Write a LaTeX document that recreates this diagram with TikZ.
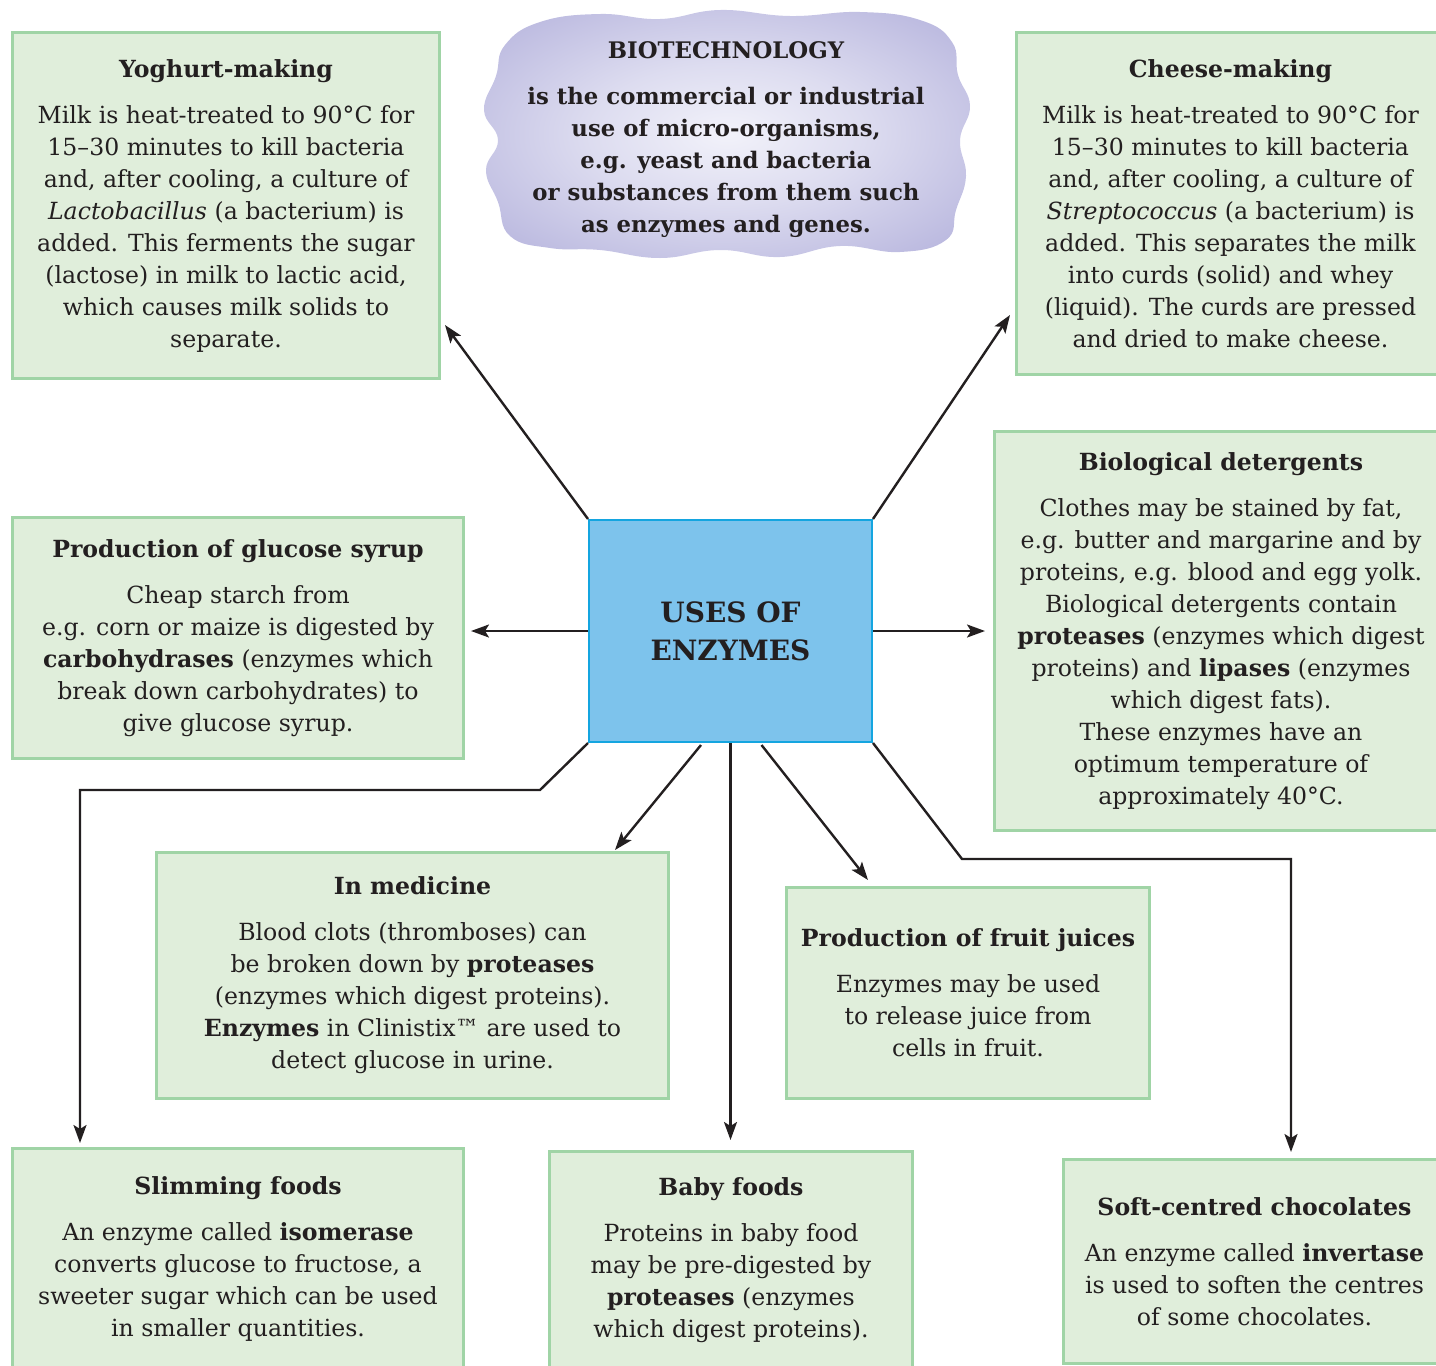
\documentclass[tikz,border=0pt]{standalone}
\usepackage{fontspec}
\setmainfont{DejaVu Serif}
\usetikzlibrary{arrows.meta,calc}

\definecolor{ink}{HTML}{231F20}
\definecolor{boxfill}{HTML}{E0EEDB}
\definecolor{boxline}{HTML}{A0D4A6}
\definecolor{cenfill}{HTML}{7DC3EC}
\definecolor{cenline}{HTML}{14A5E0}
\definecolor{cloudout}{HTML}{B6B4DD}
\definecolor{cloudin}{HTML}{F2F2FA}

\pgfdeclareradialshading{cloudshade}{\pgfpoint{0bp}{0bp}}{%
  color(0bp)=(cloudin); color(14bp)=(cloudin!65!cloudout);
  color(34bp)=(cloudout); color(50bp)=(cloudout)}

\tikzset{
  txt/.style={font=\fontsize{11.8}{16}\selectfont, text=ink, align=center},
  infobox/.style={txt, draw=boxline, fill=boxfill, line width=1.5pt,
    anchor=north west, inner sep=0pt},
  centre/.style={draw=cenline, fill=cenfill, line width=1pt, anchor=north west,
    inner sep=0pt, text=ink, align=center,
    font=\fontsize{14}{19}\selectfont\bfseries},
  arr/.style={draw=ink, line width=1.2pt,
    -{Stealth[length=9pt,width=6.5pt,inset=2pt]}},
}
\newcommand{\hd}[1]{\textbf{#1}\\[7pt]}

\begin{document}
\begin{tikzpicture}[x=0.5pt,y=-0.5pt]
\useasboundingbox (0,0) rectangle (1436,1366);
\clip (0,0) rectangle (1436,1366);

% cloud behind the definition of biotechnology
\shade[shading=cloudshade]
  plot[smooth cycle, tension=0.75] coordinates {
   (505,45) (540,22) (600,14) (660,19) (720,10) (790,16) (860,12) (920,20)
   (952,42) (958,75) (970,106) (960,140) (966,176) (956,210) (946,240)
   (900,252) (840,246) (780,257) (720,250) (660,258) (600,250) (550,248)
   (510,236) (498,202) (486,170) (498,140) (484,110) (496,76)};
\node[txt, font=\fontsize{11.4}{16}\selectfont\bfseries] (bio-def) at (726,140)
  {BIOTECHNOLOGY\\[7pt]
   is the commercial or industrial\\
   use of micro-organisms,\\
   e.g. yeast and bacteria\\
   or substances from them such\\
   as enzymes and genes.};

% central box
\node[centre, minimum width=141.5pt, minimum height=111pt] (cen) at (588,519)
  {USES OF\\ENZYMES};

% surrounding boxes
\node[infobox, minimum width=213.5pt, minimum height=173pt] (yog) at (11,31)
  {\hd{Yoghurt-making}
   Milk is heat-treated to 90°C for\\
   15–30 minutes to kill bacteria\\
   and, after cooling, a culture of\\
   \textit{Lactobacillus} (a bacterium) is\\
   added. This ferments the sugar\\
   (lactose) in milk to lactic acid,\\
   which causes milk solids to\\
   separate.};

\node[infobox, minimum width=214pt, minimum height=171pt] (chs) at (1015,31)
  {\hd{Cheese-making}
   Milk is heat-treated to 90°C for\\
   15–30 minutes to kill bacteria\\
   and, after cooling, a culture of\\
   \textit{Streptococcus} (a bacterium) is\\
   added. This separates the milk\\
   into curds (solid) and whey\\
   (liquid). The curds are pressed\\
   and dried to make cheese.};

\node[infobox, minimum width=226.5pt, minimum height=199.5pt] (bio) at (993,430)
  {\hd{Biological detergents}
   Clothes may be stained by fat,\\
   e.g. butter and margarine and by\\
   proteins, e.g. blood and egg yolk.\\
   Biological detergents contain\\
   \textbf{proteases} (enzymes which digest\\
   proteins) and \textbf{lipases} (enzymes\\
   which digest fats).\\
   These enzymes have an\\
   optimum temperature of\\
   approximately 40°C.};

\node[infobox, minimum width=225.5pt, minimum height=120.5pt] (glu) at (11,516)
  {\hd{Production of glucose syrup}
   Cheap starch from\\
   e.g. corn or maize is digested by\\
   \textbf{carbohydrases} (enzymes which\\
   break down carbohydrates) to\\
   give glucose syrup.};

\node[infobox, minimum width=256pt, minimum height=123pt] (med) at (155,851)
  {\hd{In medicine}
   Blood clots (thromboses) can\\
   be broken down by \textbf{proteases}\\
   (enzymes which digest proteins).\\
   \textbf{Enzymes} in Clinistix™ are used to\\
   detect glucose in urine.};

\node[infobox, minimum width=181.5pt, minimum height=105.5pt] (fru) at (785,886)
  {\hd{Production of fruit juices}
   Enzymes may be used\\
   to release juice from\\
   cells in fruit.};

\node[infobox, minimum width=225.5pt, minimum height=110pt] (sli) at (11,1147)
  {\hd{Slimming foods}
   An enzyme called \textbf{isomerase}\\
   converts glucose to fructose, a\\
   sweeter sugar which can be used\\
   in smaller quantities.};

\node[infobox, minimum width=181.5pt, minimum height=109pt] (baby) at (548,1150)
  {\hd{Baby foods}
   Proteins in baby food\\
   may be pre-digested by\\
   \textbf{proteases} (enzymes\\
   which digest proteins).};

\node[infobox, minimum width=191pt, minimum height=102pt] (cho) at (1062,1158)
  {\hd{Soft-centred chocolates}
   An enzyme called \textbf{invertase}\\
   is used to soften the centres\\
   of some chocolates.};

% connectors
\draw[arr] (cen.north west) -- ([shift={(4,-55)}]yog.south east);
\draw[arr] (cen.north east) -- ([shift={(-5,-61)}]chs.south west);
\draw[arr] (cen.west) -- ($(glu.east |- cen.west)+(6,0)$);
\draw[arr] (cen.east) -- ($(bio.west |- cen.east)+(-8,0)$);
\draw[arr] (cen.south west) -- ++(-48,47) -| ($(sli.north west)+(69,-4)$);
\draw[arr] ($(cen.south west)+(113,2)$) -- ($(med.north east)+(-55,-1)$);
\draw[arr] (cen.south) -- ($(cen.south |- baby.north)+(0,-10)$);
\draw[arr] ($(cen.south)+(31,2)$) -- ($(fru.north west)+(83,-6)$);
\draw[arr] (cen.south east) -- ++(89,116) -| ($(cho.north west)+(229,-6)$);
\end{tikzpicture}
\end{document}
